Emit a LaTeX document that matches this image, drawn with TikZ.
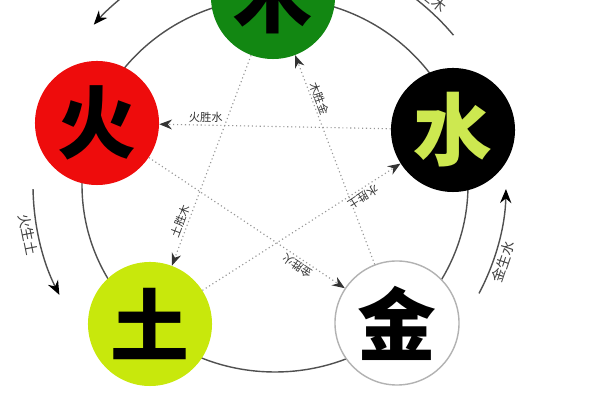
\documentclass[tikz,border=0pt]{standalone}
\usepackage{fontspec}
\newfontfamily\cjk{Noto Sans CJK SC}
\usetikzlibrary{arrows.meta}
\definecolor{mugreen}{RGB}{18,135,18}
\definecolor{huored}{RGB}{238,12,12}
\definecolor{tulime}{RGB}{200,232,12}
\definecolor{shuiglyph}{RGB}{205,232,80}
\definecolor{ringgray}{RGB}{80,80,80}
\definecolor{dotgray}{RGB}{150,150,150}
\begin{document}
\begin{tikzpicture}[x=0.025cm,y=0.025cm,
    elem/.style={circle,minimum size=3.1cm,inner sep=0pt,font=\cjk\bfseries\fontsize{56}{56}\selectfont},
    ring/.style={ringgray,line width=1pt},
    gen/.style={ringgray,line width=1pt,-{Stealth[length=10pt,width=8pt,color=black]}},
    ke/.style={dotgray,dotted,line width=0.8pt,-{Stealth[length=9pt,width=7pt,color=black!80]}},
    lbl/.style={black!80,font=\cjk\fontsize{8}{8}\selectfont,inner sep=1.5pt},
    genlbl/.style={black!75,font=\cjk\fontsize{10}{10}\selectfont,inner sep=2pt}]
  \useasboundingbox (0,0) rectangle (600,400);
  \clip (0,0) rectangle (600,400);
  \coordinate (ctr) at (275,215);
  \draw[ring] (ctr) ellipse [x radius=193, y radius=187];

  % the five elements
  \node[elem,fill=mugreen] (mu) at (273,403) {木};
  \node[elem,fill=huored] (huo) at (97,277) {火};
  \node[elem,fill=black,text=shuiglyph] (shui) at (453,270) {水};
  \node[elem,fill=tulime] (tu) at (150,76) {土};
  \node[elem,fill=white,draw=black!30,line width=1pt] (jin) at (397,77) {金};

  % inner star
  \draw[ke] (shui) -- node[lbl,pos=0.8,sloped,allow upside down,rotate=180,anchor=south] {火胜水} (huo);
  \draw[ke] (mu) -- node[lbl,pos=0.8,sloped,allow upside down,rotate=180,anchor=south] {土胜木} (tu);
  \draw[ke] (jin) -- node[lbl,pos=0.78,sloped,allow upside down,rotate=180,anchor=south] {木胜金} (mu);
  \draw[ke] (tu) -- node[lbl,pos=0.79,sloped,allow upside down,rotate=180,anchor=south] {水胜土} (shui);
  \draw[ke] (huo) -- node[lbl,pos=0.78,sloped,allow upside down,rotate=180,anchor=south] {金胜火} (jin);

  % outer arrows
  \draw[gen] ([shift={(125:242)}]ctr) arc[start angle=125,end angle=138.5,radius=242];
  \draw[gen] ([shift={(181:242)}]ctr) arc[start angle=181,end angle=207,radius=242]
    node[genlbl,pos=0.4,sloped,anchor=north] {火生土};
  \draw[gen] ([shift={(-28:231)}]ctr) arc[start angle=-28,end angle=-1,radius=231]
    node[genlbl,pos=0.35,sloped,anchor=north] {金生水};
  \draw[gen] ([shift={(40:233)}]ctr) arc[start angle=40,end angle=62,radius=233]
    node[genlbl,pos=0.5,sloped,anchor=south] {水生木};
\end{tikzpicture}
\end{document}
